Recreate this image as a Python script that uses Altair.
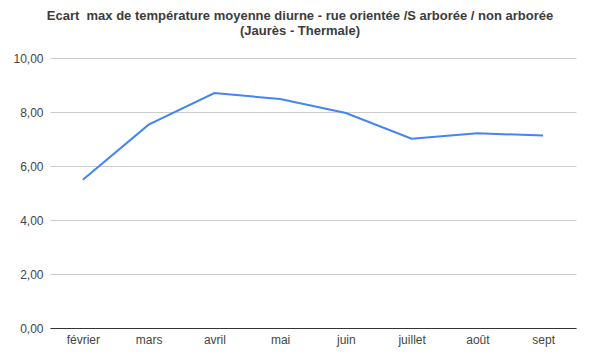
import altair as alt
import pandas as pd

months = ["février", "mars", "avril", "mai", "juin", "juillet", "août", "sept"]
values = [5.49, 7.53, 8.70, 8.48, 7.96, 7.01, 7.21, 7.13]

df = pd.DataFrame({"mois": months, "ecart": values})

FONT = "Liberation Sans"

chart = alt.Chart(df).mark_line(color="#4285F4", strokeWidth=2).encode(
    x=alt.X("mois:N", sort=months, title=None,
            scale=alt.Scale(paddingInner=0, paddingOuter=0.5),
            axis=alt.Axis(labelAngle=0, ticks=False, domain=True, domainColor="#333333",
                          labelColor="#444444", labelFontSize=12, labelFont=FONT,
                          labelPadding=6, grid=False)),
    y=alt.Y("ecart:Q", title=None,
            scale=alt.Scale(domain=[0, 10], nice=False),
            axis=alt.Axis(values=[0, 2, 4, 6, 8, 10], ticks=False, domain=False,
                          labelExpr="replace(format(datum.value, '.2f'), '.', ',')",
                          labelColor="#444444", labelFontSize=12, labelFont=FONT,
                          labelPadding=7, gridColor="#cccccc", gridWidth=1)),
).properties(
    width=526,
    height=270,
    autosize=alt.AutoSizeParams(type="none"),
    padding={"left": 42, "top": 50, "right": 9, "bottom": 24},
    title=alt.TitleParams(
        text=["Ecart \u00a0max de température moyenne diurne - rue orientée /S arborée / non arborée",
              "(Jaurès - Thermale)"],
        font=FONT, fontSize=13, fontWeight="bold", color="#3c3c3c",
        anchor="middle", dx=-13, offset=14, lineHeight=15,
    ),
).configure_view(stroke=None)

chart.save("out.html", embed_options={"renderer": "svg", "actions": False})
